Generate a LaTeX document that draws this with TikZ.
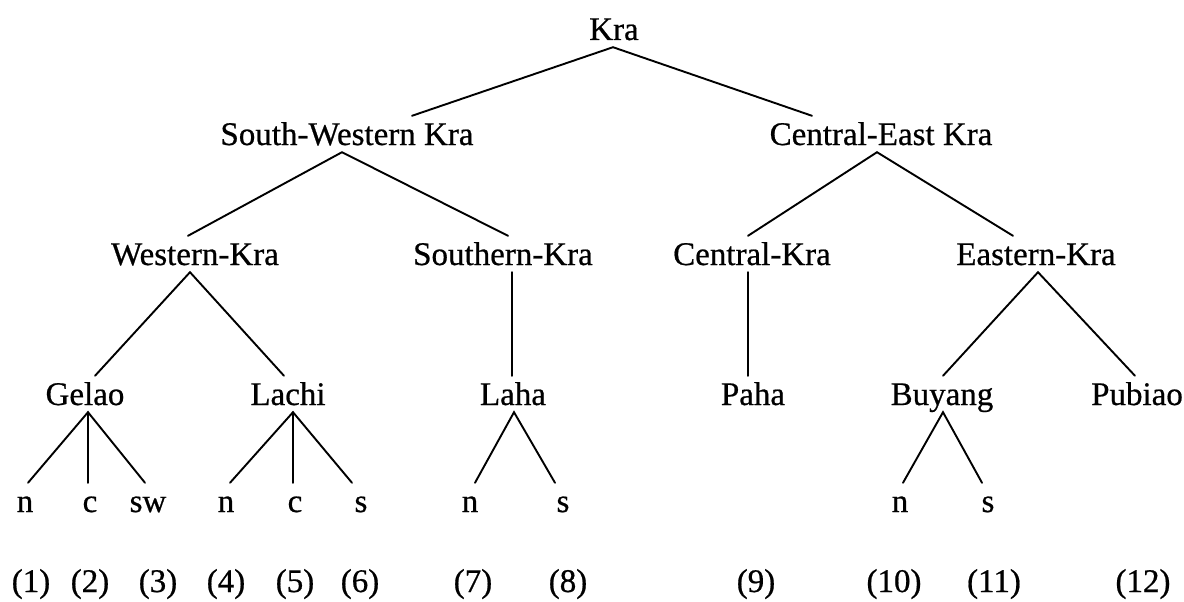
\documentclass[tikz,border=0pt]{standalone}
\usepackage{fontspec}
\setmainfont{Liberation Serif}[FakeBold=0.6]
\usetikzlibrary{calc}
\begin{document}
\begin{tikzpicture}[x=1pt,y=-1pt,
  lbl/.style={font=\fontsize{33}{36}\selectfont, inner xsep=0pt, inner ysep=7pt, anchor=base, text height=22pt, text depth=0pt},
  edge/.style={line width=1.9pt, line cap=round}]
\fill[white] (0,0) rectangle (1184,602);
\useasboundingbox (0,0) rectangle (1184,602);
% row 1
\node[lbl] (kra) at (614,40) {Kra};
% row 2
\node[lbl] (sw) at (347,145) {South-Western Kra};
\node[lbl] (ce) at (881,145) {Central-East Kra};
% row 3
\node[lbl] (wk) at (195,265) {Western-Kra};
\node[lbl] (sk) at (503,265) {Southern-Kra};
\node[lbl] (ck) at (752,265) {Central-Kra};
\node[lbl] (ek) at (1036,265) {Eastern-Kra};
% row 4
\node[lbl] (gelao) at (85,405) {Gelao};
\node[lbl] (lachi) at (288,405) {Lachi};
\node[lbl] (laha) at (513,405) {Laha};
\node[lbl] (paha) at (753,405) {Paha};
\node[lbl] (buyang) at (942,405) {Buyang};
\node[lbl] (pubiao) at (1137,405) {Pubiao};
% row 5
\node[lbl] (gn) at (25,512) {n};
\node[lbl] (gc) at (90,512) {c};
\node[lbl] (gsw) at (148,512) {sw};
\node[lbl] (ln) at (226,512) {n};
\node[lbl] (lc) at (295,512) {c};
\node[lbl] (ls) at (361,512) {s};
\node[lbl] (hn) at (470,512) {n};
\node[lbl] (hs) at (563,512) {s};
\node[lbl] (bn) at (900,512) {n};
\node[lbl] (bs) at (988,512) {s};
% row 6
\node[lbl] (r1) at (31,592) {(1)};
\node[lbl] (r2) at (90,592) {(2)};
\node[lbl] (r3) at (158,592) {(3)};
\node[lbl] (r4) at (226,592) {(4)};
\node[lbl] (r5) at (295,592) {(5)};
\node[lbl] (r6) at (360,592) {(6)};
\node[lbl] (r7) at (473,592) {(7)};
\node[lbl] (r8) at (568,592) {(8)};
\node[lbl] (r9) at (756,592) {(9)};
\node[lbl] (r10) at (894,592) {(10)};
\node[lbl] (r11) at (994,592) {(11)};
\node[lbl] (r12) at (1143,592) {(12)};
% connectors
\draw[edge] ($(sw.north)+(65,0)$) -- ($(kra.south)+(-1,0)$) -- ($(ce.north)+(-69,0)$);
\draw[edge] ($(wk.north)+(-7,0)$) -- ($(sw.south)+(-5,0)$) -- ($(sk.north)+(5,0)$);
\draw[edge] ($(ck.north)+(-4,0)$) -- ($(ce.south)+(-4,0)$) -- ($(ek.north)+(-23,0)$);
\draw[edge] ($(gelao.north)+(10,0)$) -- ($(wk.south)+(-5,0)$) -- ($(lachi.north)+(-4,0)$);
\draw[edge] ($(sk.south)+(9,0)$) -- ($(laha.north)+(-1,0)$);
\draw[edge] ($(ck.south)+(-4,0)$) -- ($(paha.north)+(-5,0)$);
\draw[edge] ($(buyang.north)+(1,0)$) -- ($(ek.south)+(2,0)$) -- ($(pubiao.north)+(-2,0)$);
\draw[edge] ($(gn.north)+(3,0)$) -- ($(gelao.south)+(3,0)$) -- ($(gsw.north)+(-3,0)$);
\draw[edge] ($(gelao.south)+(3,0)$) -- ($(gc.north)+(-2,0)$);
\draw[edge] ($(ln.north)+(4,0)$) -- ($(lachi.south)+(5,0)$) -- ($(ls.north)+(-9,0)$);
\draw[edge] ($(lachi.south)+(5,0)$) -- ($(lc.north)+(-2,0)$);
\draw[edge] ($(hn.north)+(5,0)$) -- ($(laha.south)+(1,0)$) -- ($(hs.north)+(-8,0)$);
\draw[edge] ($(bn.north)+(3,0)$) -- ($(buyang.south)+(1,0)$) -- ($(bs.north)+(-6,0)$);
\end{tikzpicture}
\end{document}
